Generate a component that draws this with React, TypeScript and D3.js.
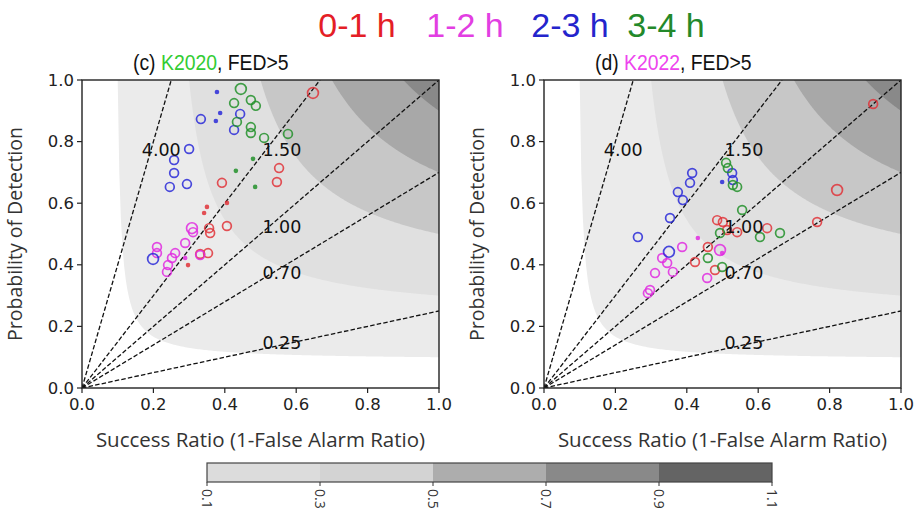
import React from 'react';
import * as d3 from 'd3';

// ---------- data ----------
const csiLevels = [0.1, 0.3, 0.5, 0.7, 0.9, 1.1];
const csiTickLabels = ['0.1', '0.3', '0.5', '0.7', '0.9', '1.1'];
const biasValues = [4, 1.5, 1, 0.7, 0.25];
const biasLabels = ['4.00', '1.50', '1.00', '0.70', '0.25'];
const biasLabelSR = [0.222, 0.56, 0.56, 0.56, 0.56];
const biasLabelPOD = [0.773, 0.773, 0.523, 0.373, 0.146];
const axisTicks = [0, 0.2, 0.4, 0.6, 0.8, 1.0];
const leadTimes = ['0-1 h', '1-2 h', '2-3 h', '3-4 h'];

// points: [success ratio, POD, marker class (1 small, 2 normal, 3 large)]
const c_0_1: number[][] = [
  [0.647, 0.958, 3], [0.552, 0.714, 2], [0.546, 0.669, 2], [0.392, 0.666, 2],
  [0.406, 0.601, 1], [0.350, 0.588, 1], [0.342, 0.568, 1], [0.406, 0.526, 2],
  [0.356, 0.519, 2], [0.359, 0.503, 2], [0.353, 0.438, 2], [0.331, 0.435, 2],
  [0.297, 0.399, 1],
];
const c_1_2: number[][] = [
  [0.308, 0.519, 3], [0.311, 0.506, 2], [0.289, 0.471, 2], [0.261, 0.438, 2],
  [0.252, 0.422, 2], [0.241, 0.399, 2], [0.238, 0.377, 2], [0.210, 0.458, 2],
  [0.210, 0.438, 2], [0.331, 0.432, 2], [0.289, 0.422, 1],
];
const c_2_3: number[][] = [
  [0.378, 0.961, 1], [0.387, 0.893, 1], [0.333, 0.873, 2], [0.375, 0.867, 1],
  [0.443, 0.890, 2], [0.426, 0.838, 2], [0.300, 0.776, 2], [0.258, 0.740, 2],
  [0.258, 0.698, 2], [0.246, 0.653, 2], [0.294, 0.662, 2], [0.199, 0.419, 3],
];
const c_3_4: number[][] = [
  [0.445, 0.971, 3], [0.473, 0.935, 2], [0.487, 0.916, 2], [0.426, 0.925, 2],
  [0.434, 0.864, 2], [0.473, 0.847, 2], [0.473, 0.828, 2], [0.510, 0.812, 2],
  [0.577, 0.825, 2], [0.479, 0.744, 1], [0.431, 0.705, 1], [0.485, 0.653, 1],
];
const d_0_1: number[][] = [
  [0.485, 0.545, 2], [0.501, 0.539, 2], [0.513, 0.513, 2], [0.541, 0.506, 2],
  [0.625, 0.519, 2], [0.765, 0.539, 2], [0.459, 0.458, 2], [0.423, 0.409, 2],
  [0.479, 0.383, 2], [0.922, 0.922, 2], [0.821, 0.643, 3],
];
const d_1_2: number[][] = [
  [0.431, 0.487, 1], [0.387, 0.458, 2], [0.493, 0.448, 3], [0.499, 0.438, 1],
  [0.331, 0.422, 2], [0.345, 0.406, 2], [0.361, 0.377, 2], [0.311, 0.373, 2],
  [0.297, 0.318, 2], [0.291, 0.308, 2], [0.457, 0.357, 2],
];
const d_2_3: number[][] = [
  [0.415, 0.698, 2], [0.409, 0.666, 2], [0.375, 0.636, 2], [0.389, 0.610, 2],
  [0.353, 0.552, 2], [0.263, 0.490, 2], [0.350, 0.442, 3], [0.499, 0.669, 1],
  [0.527, 0.698, 2], [0.529, 0.675, 2],
];
const d_3_4: number[][] = [
  [0.510, 0.731, 2], [0.515, 0.714, 2], [0.529, 0.659, 2], [0.541, 0.653, 2],
  [0.555, 0.578, 2], [0.493, 0.503, 2], [0.605, 0.490, 2], [0.661, 0.503, 2],
  [0.459, 0.422, 2], [0.499, 0.393, 2],
];

// ---------- styles ----------
const plotShades = ['#ebebeb', '#e0e0e0', '#c7c7c7', '#a8a8a8', '#898989'];
const barShades = ['#dcdcdc', '#d3d3d3', '#adadad', '#898989', '#646464'];
const leadColors = ['#e41e26', '#e23ee2', '#2424cc', '#23892a'];
const markerColors = ['#e0343a', '#e02ce0', '#2a2ad8', '#22902a'];

const W = 919, H = 513;
const PW = 357, PH = 308, PY = 80;
const panels = [
  { x0: 82, id: '(c)', model: 'K2020', modelColor: '#33cc33', series: [c_0_1, c_1_2, c_2_3, c_3_4], titleX: 133 },
  { x0: 544, id: '(d)', model: 'K2022', modelColor: '#ee44ee', series: [d_0_1, d_1_2, d_2_3, d_3_4], titleX: 595 },
];

const tickFont = 'DejaVu Sans, sans-serif';
const labelFont = 'Open Sans, Noto Sans, sans-serif';

function Panel({ p, idx }: { p: typeof panels[0]; idx: number }) {
  const x = d3.scaleLinear().domain([0, 1]).range([p.x0, p.x0 + PW]);
  const y = d3.scaleLinear().domain([0, 1]).range([PY + PH, PY]);
  const line = d3.line<number[]>().x(d => x(d[0])).y(d => y(d[1]));
  const clipId = `clip${idx}`;

  const shadePaths = csiLevels.slice(0, -1).map((c, i) => {
    const pts: number[][] = [];
    const n = 200;
    for (let k = 0; k <= n; k++) {
      const sr = c + (1 - c) * (k / n);
      const pod = 1 / (1 / c + 1 - 1 / sr);
      pts.push([sr, Math.min(1, pod)]);
    }
    pts.push([1, 1]);
    return { d: line(pts)! + 'Z', fill: plotShades[i] };
  });

  return (
    <g>
      <defs>
        <clipPath id={clipId}>
          <rect x={p.x0} y={PY} width={PW} height={PH} />
        </clipPath>
      </defs>
      <rect x={p.x0} y={PY} width={PW} height={PH} fill="#ffffff" />
      <g clipPath={`url(#${clipId})`}>
        {shadePaths.map((s, i) => <path key={i} d={s.d} fill={s.fill} />)}
        {biasValues.map((b, i) => {
          const end = b >= 1 ? [1 / b, 1] : [1, b];
          return (
            <path key={i} d={line([[0, 0], end])!} stroke="#111" strokeWidth={1.3}
              strokeDasharray="4.5,2.2" fill="none" />
          );
        })}
        {p.series.map((s, si) =>
          s.map((pt, k) => {
            const cls = pt[2];
            const r = cls === 1 ? 2.3 : cls === 3 ? 5.4 : 4.4;
            return cls === 1 ? (
              <circle key={`${si}-${k}`} cx={x(pt[0])} cy={y(pt[1])} r={r}
                fill={markerColors[si]} fillOpacity={0.85} />
            ) : (
              <circle key={`${si}-${k}`} cx={x(pt[0])} cy={y(pt[1])} r={r}
                fill="none" stroke={markerColors[si]} strokeWidth={1.7} strokeOpacity={0.85} />
            );
          })
        )}
      </g>
      {biasLabels.map((t, i) => (
        <text key={i} x={x(biasLabelSR[i])} y={y(biasLabelPOD[i])} textAnchor="middle"
          dominantBaseline="central" fontFamily={tickFont} fontSize={17.5} fill="#111">{t}</text>
      ))}
      <rect x={p.x0} y={PY} width={PW} height={PH} fill="none" stroke="#222" strokeWidth={1.4} />
      {axisTicks.map((t, i) => (
        <g key={`x${i}`}>
          <line x1={x(t)} x2={x(t)} y1={PY + PH} y2={PY + PH + 5} stroke="#222" strokeWidth={1.2} />
          <text x={x(t)} y={PY + PH + 22} textAnchor="middle" fontFamily={tickFont}
            fontSize={16.5} fill="#222">{t.toFixed(1)}</text>
        </g>
      ))}
      {axisTicks.map((t, i) => (
        <g key={`y${i}`}>
          <line x1={p.x0 - 5} x2={p.x0} y1={y(t)} y2={y(t)} stroke="#222" strokeWidth={1.2} />
          <text x={p.x0 - 8} y={y(t)} textAnchor="end" dominantBaseline="central"
            fontFamily={tickFont} fontSize={16.5} fill="#222">{t.toFixed(1)}</text>
        </g>
      ))}
      <text x={p.x0 + PW / 2} y={447} textAnchor="middle" fontFamily={labelFont}
        fontSize={20.5} fill="#333">Success Ratio (1-False Alarm Ratio)</text>
      <text transform={`translate(${p.x0 - 60},${PY + PH / 2}) rotate(-90)`} textAnchor="middle"
        fontFamily={labelFont} fontSize={19.5} fill="#333">Probability of Detection</text>
      <text transform={`translate(${p.titleX},70) scale(0.88,1)`} fontFamily="Liberation Sans, Arial, sans-serif"
        fontSize={22} fill="#111">
        {p.id} <tspan fill={p.modelColor}>{p.model}</tspan>, FED&gt;5
      </text>
    </g>
  );
}

export default function App() {
  const cbX = d3.scaleLinear().domain([0.1, 1.1]).range([207, 772]);
  const cbY = 463, cbH = 19;
  const legendX = [357, 465, 570, 666];
  return (
    <div style={{ position: 'absolute', left: 0, top: 0 }}>
      <svg width={W} height={H} viewBox={`0 0 ${W} ${H}`} style={{ display: 'block', background: '#fff' }}>
        <rect width={W} height={H} fill="#fff" />
        {leadTimes.map((t, i) => (
          <text key={i} x={legendX[i]} y={37} textAnchor="middle" fontFamily="Liberation Sans, Arial, sans-serif"
            fontSize={34} fill={leadColors[i]}>{t}</text>
        ))}
        {panels.map((p, i) => <Panel key={i} p={p} idx={i} />)}
        {csiLevels.slice(0, -1).map((c, i) => (
          <rect key={i} x={cbX(c)} y={cbY} width={cbX(csiLevels[i + 1]) - cbX(c)} height={cbH}
            fill={barShades[i]} />
        ))}
        <rect x={cbX(0.1)} y={cbY} width={cbX(1.1) - cbX(0.1)} height={cbH} fill="none" stroke="#444" strokeWidth={1.2} />
        {csiLevels.map((c, i) => (
          <g key={i}>
            <line x1={cbX(c)} x2={cbX(c)} y1={cbY + cbH} y2={cbY + cbH + 4} stroke="#333" strokeWidth={1} />
            <text transform={`translate(${cbX(c)},${cbY + cbH + 7}) rotate(90)`} textAnchor="start"
              dominantBaseline="central" fontFamily={labelFont} fontSize={14} fill="#333">{csiTickLabels[i]}</text>
          </g>
        ))}
      </svg>
    </div>
  );
}
